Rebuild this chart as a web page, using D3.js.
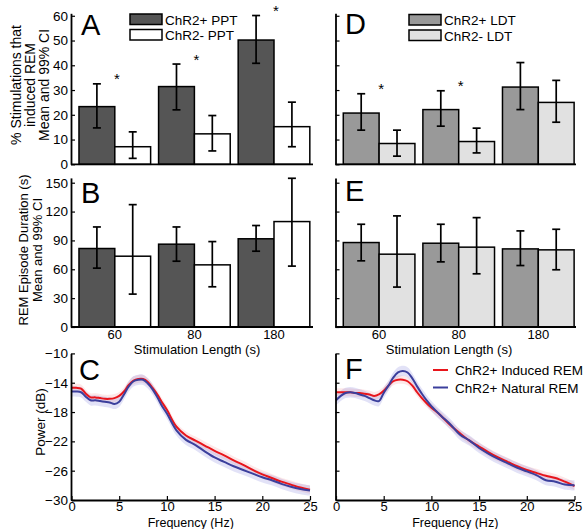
<!DOCTYPE html>
<html>
<head>
<meta charset="utf-8">
<script src="https://cdn.jsdelivr.net/npm/d3@7"></script>
<style>
  body { margin: 0; background: #fff; }
  text { font-family: "Liberation Sans", Arial, Helvetica, sans-serif; fill: #000; }
</style>
</head>
<body>
<svg id="fig" width="584" height="529"></svg>
<script>
// ---------- data ----------
const stimLengths = ["60", "80", "180"];

// % of stimulations that induced REM (mean, 99% CI) - PPT
const pptPosRate   = [23.3, 31.4, 50.2];
const pptPosRateLo = [14.7, 22.0, 40.8];
const pptPosRateHi = [32.5, 40.5, 60.1];
const pptNegRate   = [7.1, 12.3, 15.2];
const pptNegRateLo = [2.4, 5.4, 7.1];
const pptNegRateHi = [13.1, 19.7, 25.1];
const pptSignificant = [true, true, true];

// REM episode duration (s) - PPT
const pptPosDur   = [81.6, 86.1, 91.7];
const pptPosDurLo = [61.2, 68.4, 78.8];
const pptPosDurHi = [104.0, 104.0, 105.5];
const pptNegDur   = [73.6, 64.6, 109.6];
const pptNegDurLo = [34.2, 41.8, 63.3];
const pptNegDurHi = [127.2, 88.8, 154.6];

// % of stimulations that induced REM - LDT
const ldtPosRate   = [20.7, 22.1, 31.2];
const ldtPosRateLo = [13.8, 15.4, 22.1];
const ldtPosRateHi = [28.5, 29.7, 41.1];
const ldtNegRate   = [8.4, 9.2, 25.0];
const ldtNegRateLo = [3.3, 4.6, 17.0];
const ldtNegRateHi = [13.8, 14.6, 33.9];
const ldtSignificant = [true, true, false];

// REM episode duration (s) - LDT
const ldtPosDur   = [87.8, 87.1, 81.2];
const ldtPosDurLo = [68.8, 67.7, 63.9];
const ldtPosDurHi = [106.8, 106.8, 99.9];
const ldtNegDur   = [75.7, 83.0, 80.2];
const ldtNegDurLo = [41.5, 55.3, 59.5];
const ldtNegDurHi = [115.5, 113.7, 101.6];

// tick values
const rateTicks = [0, 10, 20, 30, 40, 50, 60];
const durTicks = [0, 30, 60, 90, 120, 150];
const powerTicks = [-30, -26, -22, -18, -14, -10];
const freqTicks = [0, 5, 10, 15, 20, 25];

// power spectra (dB)
const freqHz = [0, 0.5, 1, 1.5, 2, 2.5, 3, 3.5, 4, 4.5, 5, 5.5, 6, 6.5, 7, 7.5, 8, 8.5, 9, 9.5,
                10, 11, 12, 13, 14, 15, 16, 17, 18, 19, 20, 21, 22, 23, 24, 25];
const pptInducedPower = [-14.7, -14.7, -14.8, -15.5, -16.0, -16.0, -16.1, -16.2, -16.2, -16.1,
                         -15.8, -15.2, -14.3, -13.7, -13.5, -13.5, -13.9, -14.7, -15.6, -16.7,
                         -17.7, -20.0, -21.2, -21.9, -22.6, -23.3, -23.9, -24.6, -25.2, -25.9,
                         -26.5, -27.0, -27.5, -27.9, -28.3, -28.6];
const pptNaturalPower = [-15.2, -15.2, -15.3, -15.9, -16.4, -16.4, -16.5, -16.6, -16.7, -16.9,
                         -16.6, -15.6, -14.5, -13.8, -13.6, -13.6, -14.1, -14.9, -16.0, -17.2,
                         -18.2, -20.5, -21.8, -22.5, -23.4, -24.2, -24.8, -25.4, -25.9, -26.4,
                         -26.9, -27.3, -27.8, -28.2, -28.5, -28.7];
const ldtInducedPower = [-15.3, -15.3, -15.3, -15.3, -15.4, -15.4, -15.5, -15.6, -15.8, -15.6,
                         -15.1, -14.4, -13.8, -13.6, -13.6, -13.8, -14.4, -15.3, -16.1, -16.8,
                         -17.4, -18.5, -19.8, -20.9, -21.9, -22.7, -23.5, -24.2, -24.8, -25.4,
                         -25.9, -26.3, -26.7, -27.0, -27.5, -28.1];
const ldtNaturalPower = [-16.4, -15.8, -15.4, -15.3, -15.4, -15.6, -15.8, -16.1, -16.4, -16.5,
                         -15.4, -14.4, -13.3, -12.6, -12.4, -12.6, -13.4, -14.5, -15.5, -16.4,
                         -17.2, -18.5, -19.7, -21.1, -21.9, -22.9, -23.7, -24.4, -25.0, -25.6,
                         -26.1, -26.6, -27.3, -27.5, -27.9, -28.0];
const inducedCI = 0.55;
const naturalCI = 0.7;

// ---------- drawing ----------
const svg = d3.select("#fig");
svg.append("rect").attr("width", 584).attr("height", 529).attr("fill", "#fff");

const AXIS_W = 1.8;

function leftAxis(g, y, ticks, x, showLabels) {
  const ax = d3.axisLeft(y).tickValues(ticks).tickSizeInner(-4).tickSizeOuter(0).tickPadding(3)
    .tickFormat(showLabels ? d3.format("d") : () => "");
  const a = g.append("g").attr("transform", `translate(${x},0)`).call(ax);
  a.select(".domain").attr("stroke", "#000").attr("stroke-width", AXIS_W);
  a.selectAll(".tick line").attr("stroke", "#000").attr("stroke-width", 1.2);
  a.selectAll(".tick text").style("font-size", "13.5px").attr("fill", "#000");
  if (!showLabels) a.selectAll(".tick text").remove();
  return a;
}

function barPanel(opt) {
  const g = svg.append("g");
  const y = d3.scaleLinear().domain(opt.yDomain).range(opt.yRange);
  const x = d3.scaleBand().domain(stimLengths).range([opt.bandStart, opt.bandEnd])
    .paddingInner(0.1).paddingOuter(0.05);
  const sub = d3.scaleBand().domain(d3.range(opt.series.length)).range([0, x.bandwidth()]);

  opt.series.forEach((s, si) => {
    const sg = g.append("g");
    sg.selectAll("rect").data(stimLengths).join("rect")
      .attr("x", d => x(d) + sub(si))
      .attr("y", (d, i) => y(s.mean[i]))
      .attr("width", sub.bandwidth())
      .attr("height", (d, i) => y(0) - y(s.mean[i]))
      .attr("fill", s.fill).attr("stroke", "#000").attr("stroke-width", 1.5);
    const eg = sg.selectAll("g.err").data(stimLengths).join("g").attr("class", "err")
      .attr("transform", d => `translate(${x(d) + sub(si) + sub.bandwidth() / 2},0)`);
    eg.append("line").attr("y1", (d, i) => y(s.lo[i])).attr("y2", (d, i) => y(s.hi[i]))
      .attr("stroke", "#000").attr("stroke-width", 1.7);
    [s.lo, s.hi].forEach(arr => {
      eg.append("line").attr("x1", -4).attr("x2", 4)
        .attr("y1", (d, i) => y(arr[i])).attr("y2", (d, i) => y(arr[i]))
        .attr("stroke", "#000").attr("stroke-width", 1.7);
    });
  });

  if (opt.stars) {
    const hiMax = stimLengths.map((d, i) => d3.max(opt.series, s => s.hi[i]));
    g.selectAll("text.star").data(stimLengths.filter((d, i) => opt.stars[i])).join("text")
      .attr("class", "star")
      .attr("x", d => x(d) + x.bandwidth() / 2 + 2)
      .attr("y", d => y(hiMax[stimLengths.indexOf(d)] + 3) + 8)
      .attr("text-anchor", "middle").style("font-size", "15px").text("*");
  }

  // bottom baseline
  g.append("line").attr("x1", opt.axisX).attr("x2", opt.axisEnd)
    .attr("y1", y(0)).attr("y2", y(0)).attr("stroke", "#000").attr("stroke-width", AXIS_W);
  leftAxis(g, y, opt.ticks, opt.axisX, opt.tickLabels);

  if (opt.xLabels) {
    g.selectAll("text.cat").data(stimLengths).join("text").attr("class", "cat")
      .attr("x", d => x(d) + x.bandwidth() / 2).attr("y", y(0) + 11.5)
      .attr("text-anchor", "middle").style("font-size", "13px").text(d => d);
  }
  g.append("text").attr("x", opt.letter[1]).attr("y", opt.letter[2])
    .style("font-size", "29px").text(opt.letter[0]);
  return { x, y };
}

function legendBoxes(x, y, items) {
  items.forEach((it, i) => {
    svg.append("rect").attr("x", x).attr("y", y + i * 15.5).attr("width", 32).attr("height", 10.5)
      .attr("fill", it.fill).attr("stroke", "#000").attr("stroke-width", 1.5);
    svg.append("text").attr("x", x + 35).attr("y", y + i * 15.5 + 10.5)
      .style("font-size", "13.5px").text(it.label);
  });
}

// Panels A and D: REM induction rate
const rateY = { yDomain: [0, 61], yRange: [164.3, 13.3], ticks: rateTicks };
barPanel({ ...rateY, axisX: 71, axisEnd: 313, bandStart: 75, bandEnd: 313.8, tickLabels: true,
  series: [
    { mean: pptPosRate, lo: pptPosRateLo, hi: pptPosRateHi, fill: "#555555" },
    { mean: pptNegRate, lo: pptNegRateLo, hi: pptNegRateHi, fill: "#ffffff" }],
  stars: pptSignificant, letter: ["A", 81, 35] });
barPanel({ ...rateY, axisX: 335.5, axisEnd: 576, bandStart: 339.3, bandEnd: 578.1, tickLabels: false,
  series: [
    { mean: ldtPosRate, lo: ldtPosRateLo, hi: ldtPosRateHi, fill: "#999999" },
    { mean: ldtNegRate, lo: ldtNegRateLo, hi: ldtNegRateHi, fill: "#e1e1e1" }],
  stars: ldtSignificant, letter: ["D", 345, 34] });

legendBoxes(130, 14, [{ fill: "#555555", label: "ChR2+ PPT" }, { fill: "#ffffff", label: "ChR2- PPT" }]);
legendBoxes(409, 14.5, [{ fill: "#999999", label: "ChR2+ LDT" }, { fill: "#e1e1e1", label: "ChR2- LDT" }]);

// Panels B and E: REM episode duration
const durY = { yDomain: [0, 155], yRange: [327, 177.9], ticks: durTicks };
barPanel({ ...durY, axisX: 71, axisEnd: 313, bandStart: 75, bandEnd: 313.8, tickLabels: true,
  series: [
    { mean: pptPosDur, lo: pptPosDurLo, hi: pptPosDurHi, fill: "#555555" },
    { mean: pptNegDur, lo: pptNegDurLo, hi: pptNegDurHi, fill: "#ffffff" }],
  xLabels: true, letter: ["B", 81, 203] });
barPanel({ ...durY, axisX: 335.5, axisEnd: 576, bandStart: 339.3, bandEnd: 578.1, tickLabels: false,
  series: [
    { mean: ldtPosDur, lo: ldtPosDurLo, hi: ldtPosDurHi, fill: "#999999" },
    { mean: ldtNegDur, lo: ldtNegDurLo, hi: ldtNegDurHi, fill: "#e1e1e1" }],
  xLabels: true, letter: ["E", 345, 201] });

svg.append("text").attr("x", 197).attr("y", 353.5).attr("text-anchor", "middle")
  .style("font-size", "13px").text("Stimulation Length (s)");
svg.append("text").attr("x", 449).attr("y", 353.5).attr("text-anchor", "middle")
  .style("font-size", "13px").text("Stimulation Length (s)");

// Panels C and F: power spectra
function spectrumPanel(axisX, induced, natural, letter, tickLabels) {
  const g = svg.append("g");
  const x = d3.scaleLinear().domain([0, 25]).range([axisX + 0.5, axisX + 239]);
  const y = d3.scaleLinear().domain([-30, -10]).range([500, 353.4]);
  const band = (vals, ci) => d3.area().curve(d3.curveCatmullRom)
    .x((d, i) => x(freqHz[i])).y0((d, i) => y(vals[i] - ci)).y1((d, i) => y(vals[i] + ci))(vals);
  const line = vals => d3.line().curve(d3.curveCatmullRom)
    .x((d, i) => x(freqHz[i])).y(d => y(d))(vals);

  g.append("path").attr("d", band(induced, inducedCI)).attr("fill", "rgba(245,110,110,0.16)");
  g.append("path").attr("d", band(natural, naturalCI)).attr("fill", "rgba(110,110,215,0.2)");
  g.append("path").attr("d", line(induced)).attr("fill", "none").attr("stroke", "#e8151b").attr("stroke-width", 2);
  g.append("path").attr("d", line(natural)).attr("fill", "none").attr("stroke", "#3b3f9c").attr("stroke-width", 2);

  const ax = d3.axisBottom(x).tickValues(freqTicks).tickSizeInner(-4).tickSizeOuter(0).tickPadding(2);
  const a = g.append("g").attr("transform", `translate(0,${y(-30)})`).call(ax);
  a.select(".domain").attr("stroke", "#000").attr("stroke-width", AXIS_W);
  a.selectAll(".tick line").attr("stroke", "#000").attr("stroke-width", 1.2);
  a.selectAll(".tick text").style("font-size", "13px").attr("fill", "#000");
  leftAxis(g, y, powerTicks, axisX, tickLabels);

  g.append("text").attr("x", (x(0) + x(25)) / 2).attr("y", 527).attr("text-anchor", "middle")
    .style("font-size", "12.5px").text("Frequency (Hz)");
  g.append("text").attr("x", letter[1]).attr("y", letter[2]).style("font-size", "29px").text(letter[0]);
}
spectrumPanel(71, pptInducedPower, pptNaturalPower, ["C", 79, 380], true);
spectrumPanel(335.5, ldtInducedPower, ldtNaturalPower, ["F", 345, 379], false);

// legend for spectra
[{ c: "#e8151b", label: "ChR2+ Induced REM", y: 370 }, { c: "#3b3f9c", label: "ChR2+ Natural REM", y: 387.5 }]
  .forEach(it => {
    svg.append("line").attr("x1", 433).attr("x2", 448).attr("y1", it.y).attr("y2", it.y)
      .attr("stroke", it.c).attr("stroke-width", 2);
    svg.append("text").attr("x", 455).attr("y", it.y + 5).style("font-size", "13.5px").text(it.label);
  });

// y-axis titles
function yTitle(lines, cx, cy, size, gap) {
  const t = svg.append("text").attr("transform", `translate(${cx},${cy}) rotate(-90)`)
    .attr("text-anchor", "middle").style("font-size", size + "px");
  lines.forEach((l, i) => t.append("tspan").attr("x", 0).attr("dy", i === 0 ? 0 : gap).text(l));
}
yTitle(["% Stimulations that", "induced REM", "Mean and 99% CI"], 21, 85, 14, 14);
yTitle(["REM Episode Duration (s)", "Mean and 99% CI"], 28, 250, 13, 14);
yTitle(["Power (dB)"], 45, 422, 13.5, 14);
</script>
</body>
</html>
